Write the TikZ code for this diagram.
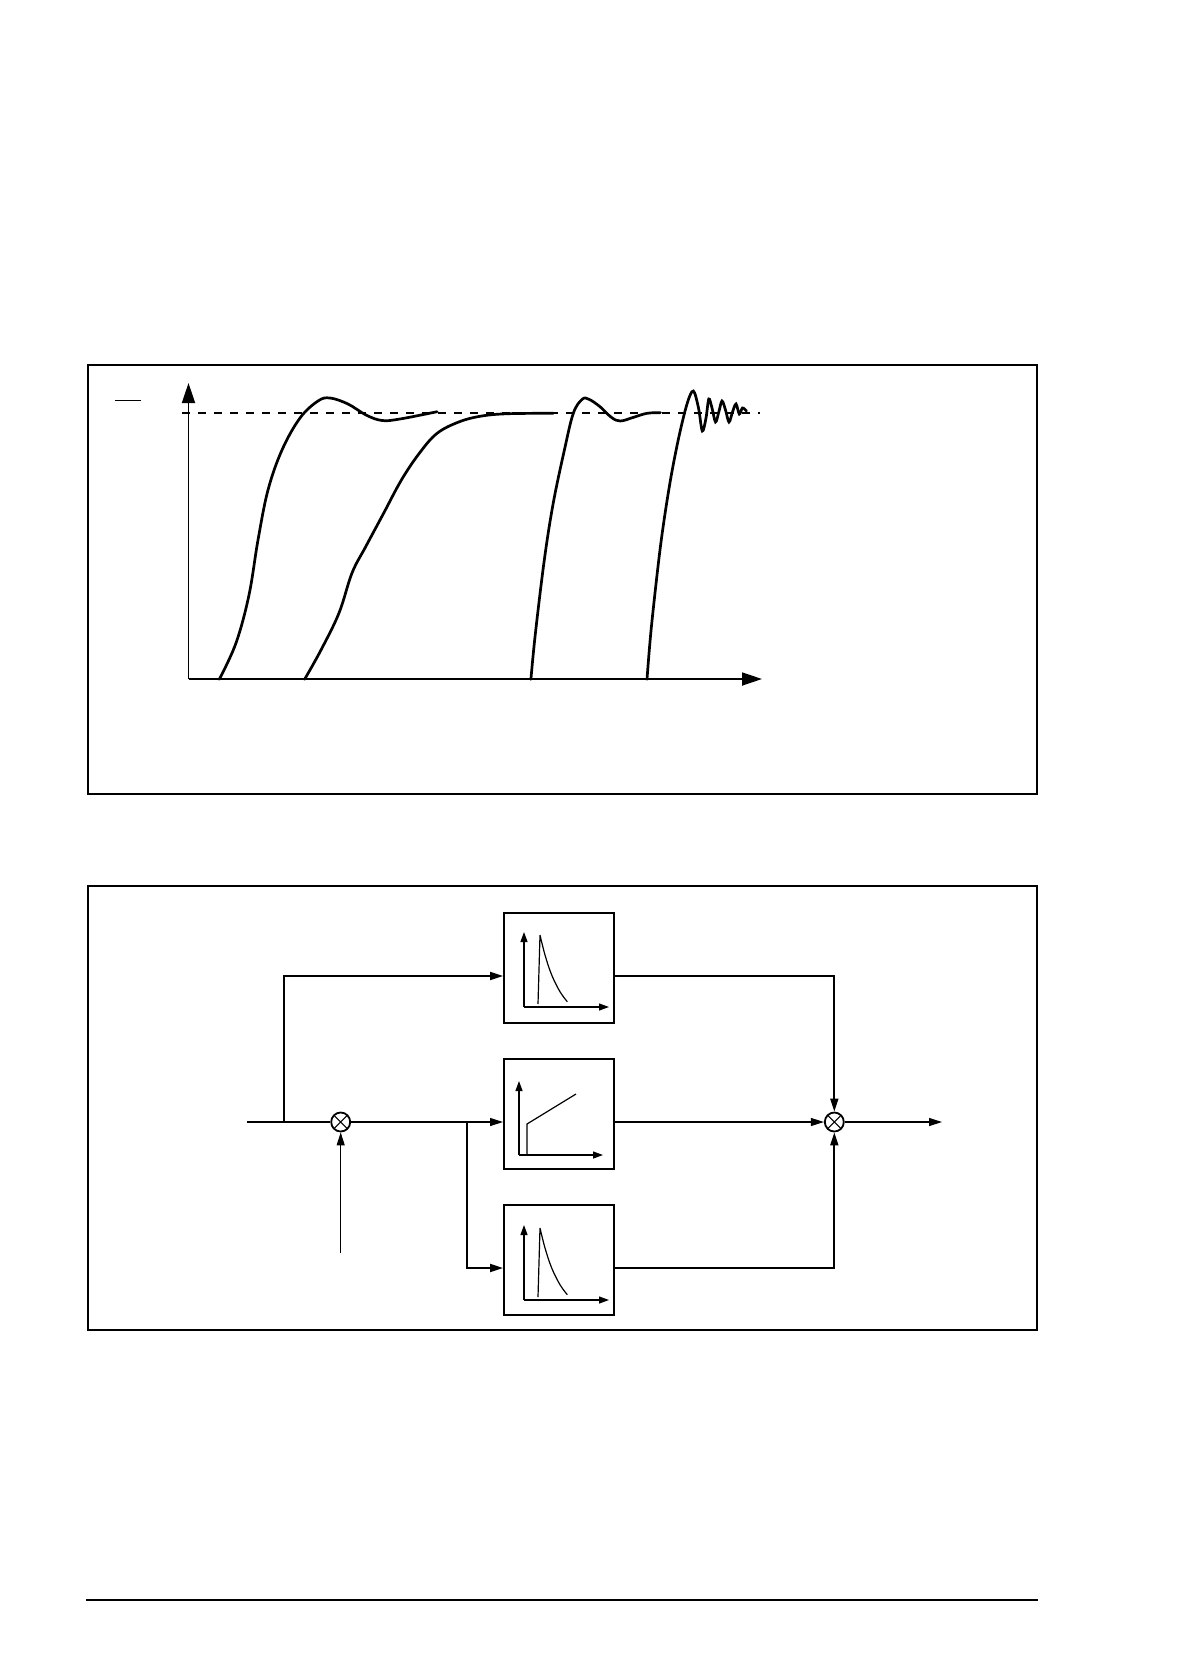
\documentclass[tikz,border=0pt]{standalone}
\usepackage{tikz}
\usetikzlibrary{arrows.meta}
\tikzset{
  frame/.style={line width=0.65pt},
  curve/.style={line width=1.35pt,line cap=round},
  bigarr/.style={line width=0.9pt,-{Triangle[length=10pt,width=6.5pt]}},
  smallarr/.style={line width=0.6pt,-{Triangle[length=5pt,width=3.5pt]}},
  sig/.style={line width=0.55pt,-{Triangle[length=6.5pt,width=4pt]}},
  sigthick/.style={line width=0.9pt,-{Triangle[length=6.5pt,width=4pt]}},
  blockbox/.style={draw,line width=1pt,minimum width=55pt,minimum height=55pt,inner sep=0pt},
  sumnode/.style={draw,circle,line width=0.9pt,minimum size=9.5pt,inner sep=0pt,
    path picture={\draw[line width=0.55pt] (path picture bounding box.north west) -- (path picture bounding box.south east)
      (path picture bounding box.north east) -- (path picture bounding box.south west);}}
}
\begin{document}
\begin{tikzpicture}[x=0.5pt,y=-0.5pt]
\useasboundingbox (0,0) rectangle (1182,1680);
% frames
\draw[frame] (88,365) rectangle (1037,794);
\draw[frame] (88,886) rectangle (1037,1330);
\draw[line width=0.7pt] (86,1600) -- (1038,1600); % footer rule
% step responses
\draw[bigarr] (188.5,679) -- (188.5,383);
\draw[bigarr] (188.5,679) -- (762,679);
\draw[line width=1pt,dash pattern=on 4pt off 4pt] (182,413) -- (760,413); % set point
\draw[line width=0.5pt] (115,400) -- (141,400);
\draw[curve] plot[smooth,tension=0.6] coordinates {(219.3,679.3) (236,643) (249,595) (258,540) (268,490) (282,450) (300,418) (318,401) (330,398) (348,404) (366,415) (382,420.5) (400,419) (437.1,411.7)};
\draw[curve] plot[smooth,tension=0.6] coordinates {(304.6,679.3) (321,650) (339,613) (352,573) (365.7,546.7) (383.6,513.3) (401.4,480) (419.3,453.3) (437.1,433.3) (459.5,421.7) (481.8,416) (508.6,413.7) (553.2,413.3)};
\draw[curve] plot[smooth,tension=0.6] coordinates {(530.9,679.3) (535.4,633.3) (544.3,560) (553.2,503.3) (564.4,450) (573.3,413.3) (582.2,399.3) (589,399.3) (600,406.7) (611.3,417.3) (620.2,421) (633.6,417.3) (647,413.3) (660.4,412.7)};
\draw[curve] plot[smooth,tension=0.55] coordinates {(647,679.3) (651.4,626.7) (660.4,546.7) (669.3,486.7) (678.2,440) (687,404) (693.3,391) (698.5,408) (702.3,431) (706,418) (708.8,399) (712,408) (715.5,422) (718.8,412) (722,401) (725.5,410) (729,422) (732.5,412) (736,404) (739.3,414) (742.5,408) (746.5,411)}; % oscillating
% controller blocks
\node[blockbox] (topbox) at (559,968) {};
\node[blockbox] (midbox) at (559,1114) {};
\node[blockbox] (botbox) at (559,1260) {};
\node[sumnode] (sumin) at (340.7,1122) {};
\node[sumnode] (sumout) at (834.3,1122) {};
\coordinate (in) at (247,1122);
\coordinate (ref) at (340.7,1253);
\coordinate (out) at (942,1122);
\coordinate (brA) at (284,1122);
\coordinate (brB) at (467,1122);
% mini plots
\draw[smallarr] (524,1007) -- (524,932);
\draw[smallarr] (524,1007) -- (609,1007);
\draw[line width=0.6pt] (538,1004) -- (540,935) plot[smooth,tension=0.6] coordinates {(540,935) (545,955) (551.7,975) (560,991.7) (567.3,1001.7)};
\draw[smallarr] (519,1155) -- (519,1081);
\draw[smallarr] (519,1155) -- (603,1155);
\draw[line width=0.6pt] (527,1155) -- (527,1124) -- (576,1094);
\draw[smallarr] (524,1300) -- (524,1225);
\draw[smallarr] (524,1300) -- (609,1300);
\draw[line width=0.6pt] (538,1297) -- (540,1228) plot[smooth,tension=0.6] coordinates {(540,1228) (545,1248) (551.7,1268) (560,1284.7) (567.3,1294.7)};
% signal lines
\draw[line width=0.55pt] (in) -- (sumin.west);
\draw[sigthick] (brA) |- ([yshift=-4pt]topbox.west);
\draw[sig] (ref) -- (sumin.south);
\draw[sig] (sumin.east) -- ([yshift=-4pt]midbox.west);
\draw[sigthick] (brB) |- ([yshift=-4pt]botbox.west);
\draw[sigthick] ([yshift=-4pt]topbox.east) -| (sumout.north);
\draw[sig] ([yshift=-4pt]midbox.east) -- (sumout.west);
\draw[sigthick] ([yshift=-4pt]botbox.east) -| (sumout.south);
\draw[sig] (sumout.east) -- (out);
\end{tikzpicture}
\end{document}
